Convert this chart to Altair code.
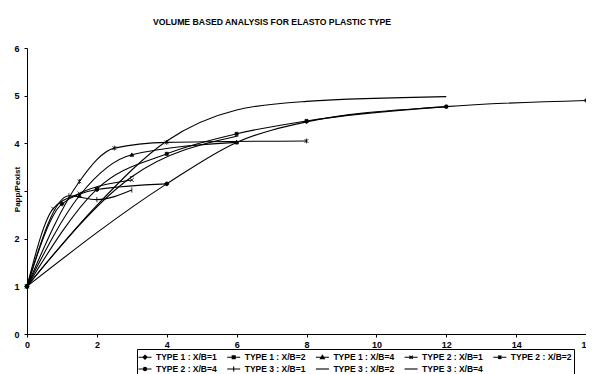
import altair as alt
import pandas as pd

series_names = [
    "TYPE 1 : X/B=1", "TYPE 1 : X/B=2", "TYPE 1 : X/B=4",
    "TYPE 2 : X/B=1", "TYPE 2 : X/B=2", "TYPE 2 : X/B=4",
    "TYPE 3 : X/B=1", "TYPE 3 : X/B=2", "TYPE 3 : X/B=4",
]

t1_xb1_x = [0, 4, 6, 8, 12, 16]
t1_xb1_y = [1, 3.15, 4.02, 4.45, 4.77, 4.9]
t1_xb2_x = [0, 2, 4, 6, 8, 12]
t1_xb2_y = [1, 3.04, 3.78, 4.2, 4.47, 4.77]
t1_xb4_x = [0, 1.5, 3, 6]
t1_xb4_y = [1, 2.9, 3.76, 4.02]
t2_xb1_x = [0, 0.75, 1.5, 3]
t2_xb1_y = [1, 2.63, 2.95, 3.23]
t2_xb2_x = [0, 1.5, 2.5, 4, 8]
t2_xb2_y = [1, 3.2, 3.9, 4.02, 4.05]
t2_xb4_x = [0, 1, 2, 4]
t2_xb4_y = [1, 2.73, 3.03, 3.15]
t3_xb1_x = [0, 1.2, 2, 3]
t3_xb1_y = [1, 2.9, 2.82, 3.02]
t3_xb2_x = [0, 3, 6]
t3_xb2_y = [1, 3.3, 4.15]
t3_xb4_x = [0, 2, 4, 6, 8, 12]
t3_xb4_y = [1, 2.7, 4.05, 4.7, 4.88, 4.98]

xs = [t1_xb1_x, t1_xb2_x, t1_xb4_x, t2_xb1_x, t2_xb2_x, t2_xb4_x, t3_xb1_x, t3_xb2_x, t3_xb4_x]
ys = [t1_xb1_y, t1_xb2_y, t1_xb4_y, t2_xb1_y, t2_xb2_y, t2_xb4_y, t3_xb1_y, t3_xb2_y, t3_xb4_y]

rows = []
for name, xv, yv in zip(series_names, xs, ys):
    for a, b in zip(xv, yv):
        rows.append({"series": name, "x": a, "y": b})
df = pd.DataFrame(rows)

marker_paths = [
    "M0,-1L1,0L0,1L-1,0Z",
    "M-0.8,-0.8H0.8V0.8H-0.8Z",
    "M0,-1L1,0.8H-1Z",
    "M-1,-1L1,1M-1,1L1,-1",
    "M-1,-1L1,1M-1,1L1,-1M0,-1.3V1.3",
    "M1,0A1,1,0,1,1,-1,0A1,1,0,1,1,1,0Z",
    "M0,-1.4V1.4",
    "M-1,0H1",
]
legend_paths = [
    "M-1.3,0H1.3M0,-0.4L0.4,0L0,0.4L-0.4,0ZM0,-0.2L0.2,0L0,0.2L-0.2,0Z",
    "M-1.3,0H1.3M-0.3,-0.3H0.3V0.3H-0.3ZM-0.12,-0.12H0.12V0.12H-0.12Z",
    "M-1.3,0H1.3M0,-0.4L0.4,0.3H-0.4ZM0,-0.15L0.15,0.12H-0.15Z",
    "M-1.3,0H1.3M-0.33,-0.33L0.33,0.33M-0.33,0.33L0.33,-0.33",
    "M-1.3,0H1.3M-0.33,-0.33L0.33,0.33M-0.33,0.33L0.33,-0.33M0,-0.42V0.42",
    "M-1.3,0H1.3M0.33,0A0.33,0.33,0,1,1,-0.33,0A0.33,0.33,0,1,1,0.33,0ZM0.13,0A0.13,0.13,0,1,1,-0.13,0A0.13,0.13,0,1,1,0.13,0Z",
    "M-1.3,0H1.3M0,-0.5V0.5",
    "M-1.3,0H1.3",
    "M-1.3,0H1.3",
]

FONT = "Liberation Sans"

x_enc = alt.X("x:Q", scale=alt.Scale(domain=[0, 16], nice=False),
              axis=alt.Axis(values=list(range(0, 17, 2)), title=None, grid=False,
                            tickSize=3, labelPadding=3, labelFontSize=9,
                            labelFont=FONT, labelFontWeight="bold",
                            domainColor="black", tickColor="black",
                            labelColor="black", labelFlush=False))
y_enc = alt.Y("y:Q", scale=alt.Scale(domain=[0, 6], nice=False),
              axis=alt.Axis(values=[0, 1, 2, 3, 4, 5, 6], title="Papp/Pexist",
                            labelExpr="datum.value == 3 ? '' : datum.label",
                            grid=False, tickSize=3, labelPadding=5, labelFontSize=9,
                            labelFont=FONT, labelFontWeight="bold",
                            titleFont=FONT, titleFontSize=8, titleFontWeight="bold",
                            titleAngle=270, titleX=-10, titleY=141,
                            titleAlign="center", titleBaseline="middle",
                            domainColor="black", tickColor="black",
                            labelColor="black", titleColor="black"))

lines = alt.Chart(df).mark_line(interpolate="monotone", color="black", strokeWidth=1.1).encode(
    x=x_enc, y=y_enc, detail="series:N"
)

points = alt.Chart(df).transform_filter(
    alt.datum.series != "TYPE 3 : X/B=4"
).mark_point(filled=True, color="black", stroke="black", strokeWidth=0.8, size=14, opacity=1).encode(
    x="x:Q", y="y:Q",
    shape=alt.Shape("series:N", scale=alt.Scale(domain=series_names[:8], range=marker_paths), legend=None),
)

legend_layer = alt.Chart(df).mark_point(filled=False, color="black",
                                        strokeWidth=1.1, opacity=1, clip=True).encode(
    x=alt.value(-80), y=alt.value(-80),
    shape=alt.Shape("series:N", scale=alt.Scale(domain=series_names, range=legend_paths),
                    legend=alt.Legend(title=None, orient="none", legendX=110, legendY=301,
                                      direction="horizontal", columns=5,
                                      columnPadding=7.7, rowPadding=1,
                                      symbolSize=100, symbolStrokeWidth=1.1,
                                      symbolStrokeColor="black",
                                      labelFont=FONT, labelFontSize=8.5, labelFontWeight="bold",
                                      labelColor="black", labelOffset=5,
                                      strokeColor="black", padding=2, cornerRadius=0)),
)

chart = alt.layer(lines, points, legend_layer).resolve_scale(shape="independent").properties(
    width=559, height=286,
    padding={"left": 19, "top": 40, "right": 0, "bottom": 40},
    autosize=alt.AutoSizeParams(type="none"),
    title=alt.TitleParams("VOLUME BASED ANALYSIS FOR ELASTO PLASTIC TYPE", anchor="start",
                          dx=140, offset=17, font=FONT, fontSize=8.7, fontWeight="bold",
                          color="black"),
).configure_view(stroke=None)

chart.save("out.html", embed_options={"renderer": "svg", "actions": False})
